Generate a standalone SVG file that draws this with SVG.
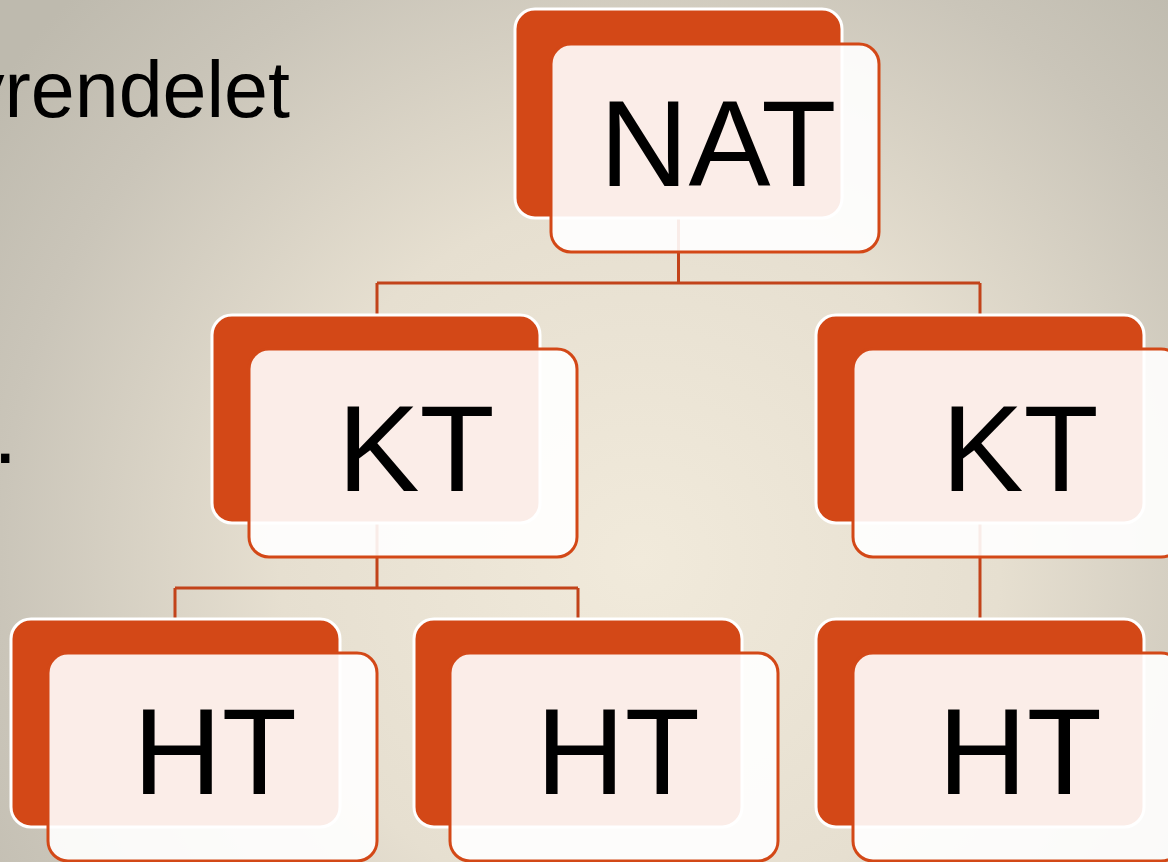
<svg xmlns="http://www.w3.org/2000/svg" width="1168" height="862" viewBox="0 0 1168 862">
  <defs>
    <radialGradient id="bg" gradientUnits="userSpaceOnUse" cx="640" cy="560" r="800">
      <stop offset="0" stop-color="#F1EADB"/>
      <stop offset="0.45" stop-color="#E6DFD0"/>
      <stop offset="0.8" stop-color="#CAC5B9"/>
      <stop offset="1" stop-color="#BEBAAE"/>
    </radialGradient>
    <style>
      .back { fill: #D34817; stroke: #FFFFFF; stroke-width: 3; }
      .front { fill: #FFFFFF; fill-opacity: 0.9; stroke: #D34817; stroke-width: 3; }
      .lbl { font-family: "Liberation Sans", Arial, sans-serif; font-size: 123px; fill: #000000; text-anchor: middle; }
      .body { font-family: "Liberation Sans", Arial, sans-serif; font-size: 79px; fill: #000000; }
      .conn { fill: none; stroke: #C2431A; stroke-width: 3; }
    </style>
  </defs>
  <rect x="0" y="0" width="1168" height="862" fill="url(#bg)"/>
  <text class="body" x="290" y="117" text-anchor="end">yrendelet</text>
  <text class="body" x="-7" y="463" style="font-size:88px">.</text>

  <g id="connectors">
    <path class="conn" d="M678.5 218 V283 M377 283 H980 M377 283 V316 M980 283 V316"/>
    <path class="conn" d="M377 522 V588 M175 588 H578 M175 588 V620 M578 588 V620"/>
    <path class="conn" d="M980 522 V620"/>
  </g>

  <g id="node-nat">
    <rect class="back" x="515" y="9" width="327" height="209" rx="20"/>
    <rect class="front" x="551" y="44" width="328" height="208" rx="20"/>
    <text class="lbl" x="718" y="186">NAT</text>
  </g>
  <g id="node-kt-left">
    <rect class="back" x="212" y="315" width="328" height="208" rx="20"/>
    <rect class="front" x="249" y="349" width="328" height="208" rx="20"/>
    <text class="lbl" x="416" y="491">KT</text>
  </g>
  <g id="node-kt-right">
    <rect class="back" x="816" y="315" width="328" height="208" rx="20"/>
    <rect class="front" x="853" y="349" width="328" height="208" rx="20"/>
    <text class="lbl" x="1020" y="491">KT</text>
  </g>
  <g id="node-ht-1">
    <rect class="back" x="11" y="619" width="329" height="208" rx="20"/>
    <rect class="front" x="48" y="653" width="329" height="208" rx="20"/>
    <text class="lbl" x="215" y="794">HT</text>
  </g>
  <g id="node-ht-2">
    <rect class="back" x="414" y="619" width="328" height="208" rx="20"/>
    <rect class="front" x="450" y="653" width="328" height="208" rx="20"/>
    <text class="lbl" x="618" y="794">HT</text>
  </g>
  <g id="node-ht-3">
    <rect class="back" x="816" y="619" width="328" height="208" rx="20"/>
    <rect class="front" x="853" y="653" width="328" height="208" rx="20"/>
    <text class="lbl" x="1020" y="794">HT</text>
  </g>
</svg>
